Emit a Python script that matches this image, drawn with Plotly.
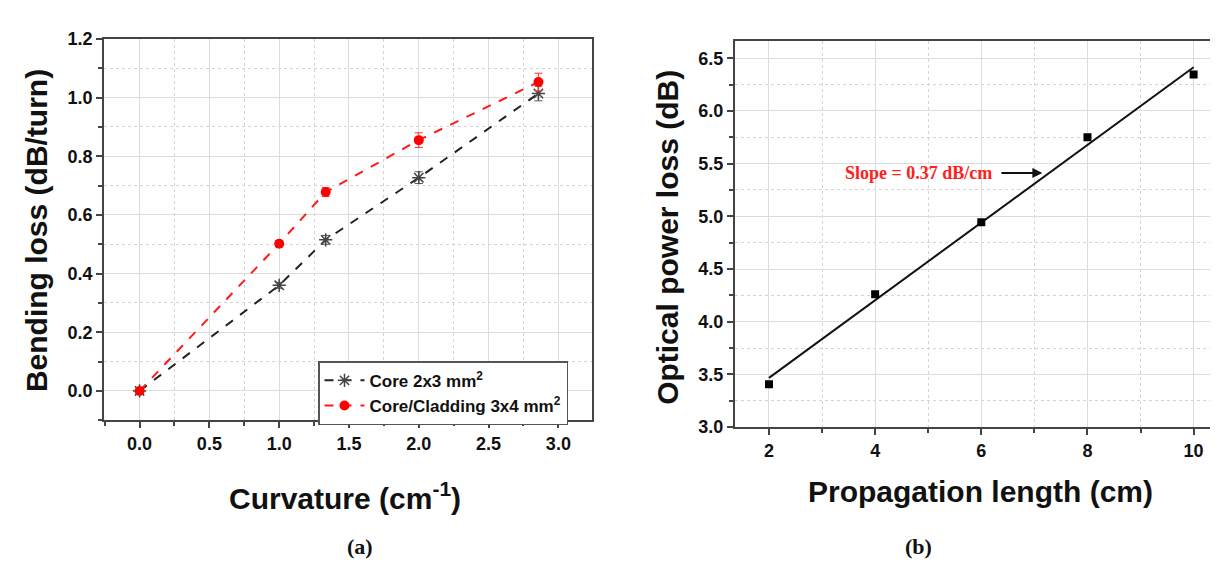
import numpy as np
import plotly.graph_objects as go

# ---- data (a) ----
curv = [0.0, 1.0, 1.333, 2.0, 2.857]
core_loss = [0.0, 0.36, 0.515, 0.727, 1.014]
core_err = [0.0, 0.01, 0.015, 0.02, 0.025]
clad_loss = [0.0, 0.502, 0.678, 0.855, 1.053]
clad_err = [0.0, 0.01, 0.015, 0.025, 0.03]

# ---- data (b) ----
prop_len = [2, 4, 6, 8, 10]
power_loss = [3.407, 4.26, 4.943, 5.75, 6.345]

slope, intercept = np.polyfit(prop_len, power_loss, 1)
fit_x = [prop_len[0], prop_len[-1]]
fit_y = [slope * v + intercept for v in fit_x]

W, H = 1218, 561
def px(x): return x / W
def py(y): return 1 - y / H

fig = go.Figure()

fig.add_trace(go.Scatter(
    x=curv, y=core_loss, mode="lines+markers", name="Core 2x3 mm<sup>2</sup>",
    line=dict(color="#222222", width=2, dash="dash"),
    marker=dict(symbol="asterisk-open", size=11, color="#444444", line=dict(width=1.5, color="#444444")),
    error_y=dict(type="data", array=core_err, color="#555555", thickness=1, width=4),
    xaxis="x", yaxis="y"))
fig.add_trace(go.Scatter(
    x=curv, y=clad_loss, mode="lines+markers", name="Core/Cladding 3x4 mm<sup>2</sup>",
    line=dict(color="#ff1a1a", width=2, dash="dash"),
    marker=dict(symbol="circle", size=10, color="#ff0000"),
    error_y=dict(type="data", array=clad_err, color="#ff3333", thickness=1, width=4),
    xaxis="x", yaxis="y"))

fig.add_trace(go.Scatter(
    x=fit_x, y=fit_y, mode="lines", showlegend=False,
    line=dict(color="#111111", width=2), xaxis="x2", yaxis="y2"))
fig.add_trace(go.Scatter(
    x=prop_len, y=power_loss, mode="markers", showlegend=False,
    marker=dict(symbol="square", size=8, color="#000000"), xaxis="x2", yaxis="y2"))

tickfont = dict(family="Liberation Sans, Arial", size=18, color="#111111", weight="bold")
common = dict(showline=True, linecolor="#444444", linewidth=1.8,
              ticks="outside", ticklen=6, tickwidth=1.8, tickcolor="#444444",
              showgrid=True, gridcolor="#dcdcdc", gridwidth=1, zeroline=False,
              tickfont=tickfont)
minor_common = dict(ticks="outside", ticklen=4, tickcolor="#444444",
                    showgrid=True, gridcolor="#d4d4d4", griddash="dot", gridwidth=1)

fig.update_layout(
    width=W, height=H, margin=dict(l=0, r=0, t=0, b=0),
    paper_bgcolor="white", plot_bgcolor="white",
    xaxis=dict(domain=[px(96), px(584.3)], range=[-0.255, 3.243], dtick=0.5, tick0=0,
               tickformat=".1f", anchor="y", mirror=True,
               minor=dict(dtick=0.25, tick0=0, **minor_common), **common),
    yaxis=dict(domain=[py(417.3), py(21.7)], range=[-0.1006, 1.2], dtick=0.2, tick0=0,
               tickformat=".1f", anchor="x", mirror=True,
               minor=dict(dtick=0.1, tick0=0, **minor_common), **common),
    xaxis2=dict(domain=[px(726.7), 1.0], range=[1.354, 10.61], dtick=2, tick0=0,
                anchor="y2", mirror=True,
                minor=dict(dtick=1, tick0=0, **minor_common), **common),
    yaxis2=dict(domain=[py(424.3), py(24)], range=[3.0, 6.662], dtick=0.5, tick0=0,
                tickformat=".1f", anchor="x2", mirror=False,
                minor=dict(dtick=0.25, tick0=0, **minor_common), **common),
    legend=dict(x=px(310), y=py(356), xanchor="left", yanchor="top",
                bordercolor="#555555", borderwidth=1.5, bgcolor="white",
                font=dict(family="Liberation Sans, Arial", size=17, color="#111111", weight="bold"),
                tracegroupgap=2, itemwidth=40),
)

title_font = dict(family="Liberation Sans, Arial", size=30, color="#111111", weight="bold")
serif = "Liberation Serif, Times New Roman"
ann = [
    dict(text="Bending loss (dB/turn)", x=px(28), y=py(221), textangle=-90, font=title_font),
    dict(text="Curvature (cm<sup>-1</sup>)", x=px(337), y=py(496), font=title_font),
    dict(text="Optical power loss (dB)", x=px(660), y=py(228), textangle=-90, font=title_font),
    dict(text="Propagation length (cm)", x=px(972), y=py(491), font=title_font),
    dict(text="<b>(a)</b>", x=px(352), y=py(548),
         font=dict(family=serif, size=22, color="#111111")),
    dict(text="<b>(b)</b>", x=px(910), y=py(548),
         font=dict(family=serif, size=22, color="#111111")),
]
for a in ann:
    a.update(xref="paper", yref="paper", showarrow=False, xanchor="center", yanchor="middle")
    fig.add_annotation(**a)

fig.add_annotation(text="<b>Slope = 0.37 dB/cm</b>", x=4.826, y=5.41, xref="x2", yref="y2",
                   showarrow=False, font=dict(family=serif, size=18, color="#ff2020"))
fig.add_annotation(text="", x=7.15, y=5.41, ax=6.35, ay=5.41, xref="x2", yref="y2",
                   axref="x2", ayref="y2", showarrow=True, arrowhead=2, arrowsize=1,
                   arrowwidth=2, arrowcolor="#111111")

fig.write_html("out.html")
